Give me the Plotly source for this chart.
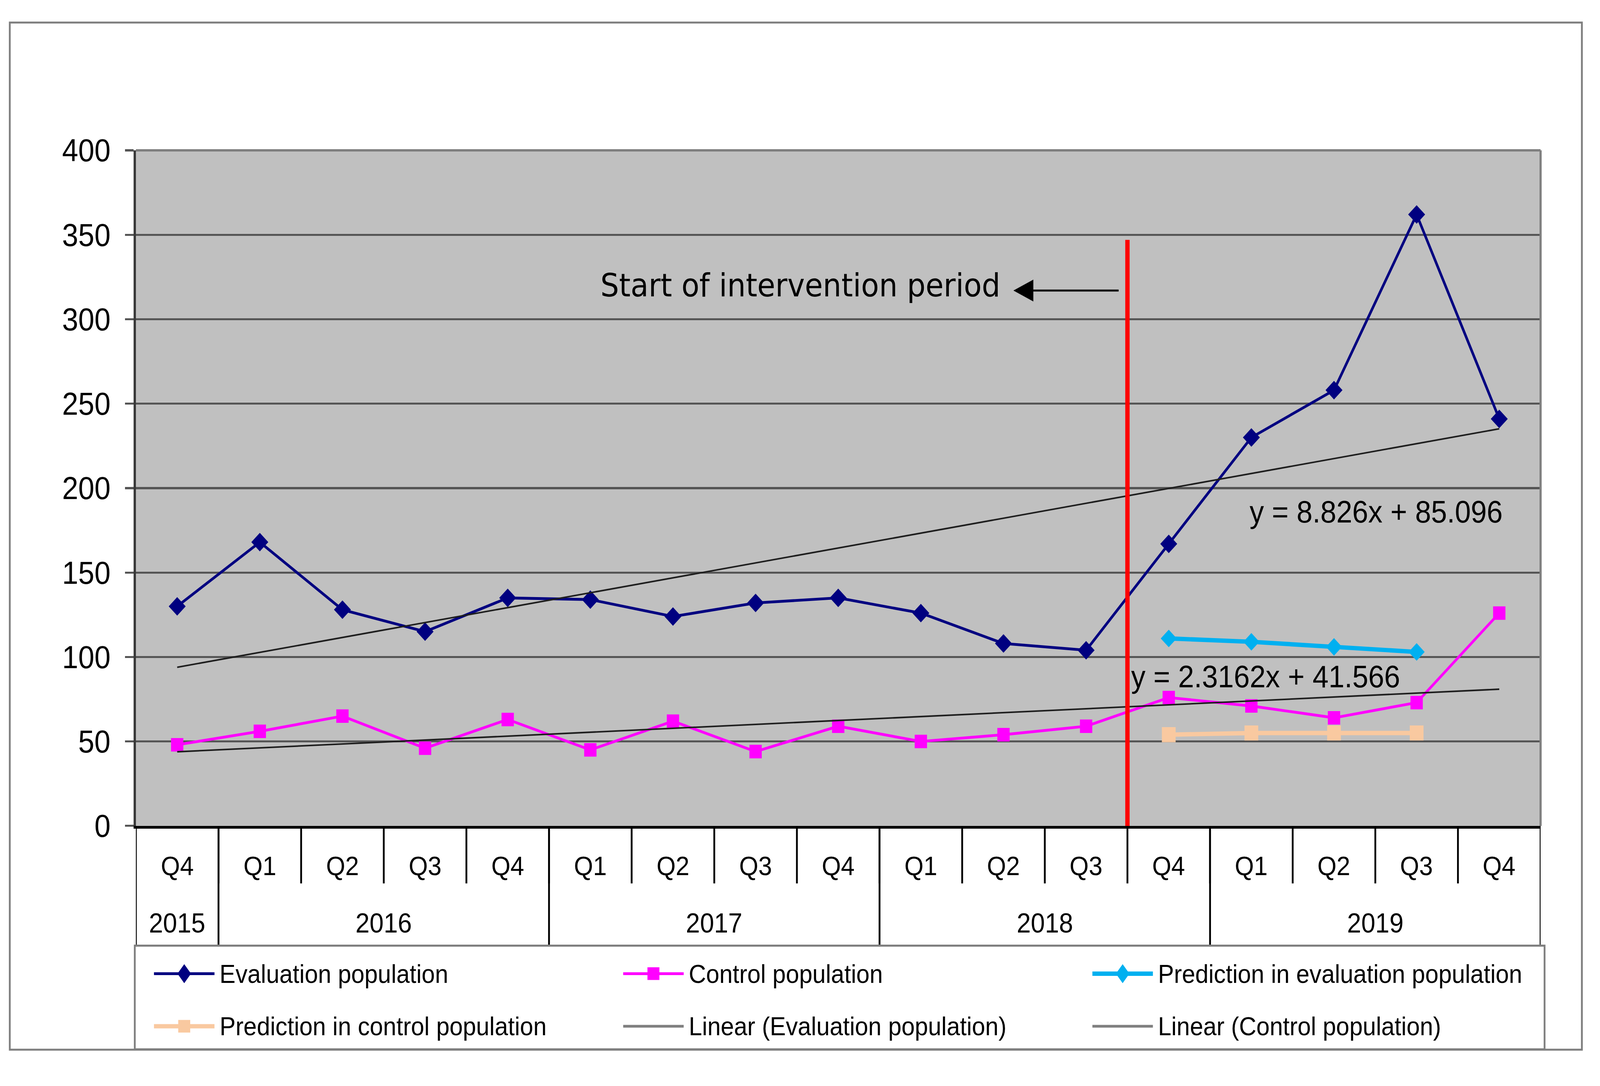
import plotly.graph_objects as go

W, H = 4416, 2781

# ---------------- data ----------------
quarters = ["Q4", "Q1", "Q2", "Q3", "Q4", "Q1", "Q2", "Q3", "Q4",
            "Q1", "Q2", "Q3", "Q4", "Q1", "Q2", "Q3", "Q4"]
years = ["2015", "2016", "2017", "2018", "2019"]
year_first_idx = [0, 1, 5, 9, 13]
year_last_idx = [0, 4, 8, 12, 16]

evaluation = [130, 168, 128, 115, 135, 134, 124, 132, 135, 126, 108, 104, 167, 230, 258, 362, 241]
control = [48, 56, 65, 46, 63, 45, 62, 44, 59, 50, 54, 59, 76, 71, 64, 73, 126]
pred_start_idx = 12
pred_evaluation = [111, 109, 106, 103]
pred_control = [54, 55, 55, 55]

eval_slope, eval_intercept = 8.826, 85.096
ctrl_slope, ctrl_intercept = 2.3162, 41.566
eval_eq_text = "y = 8.826x + 85.096"
ctrl_eq_text = "y = 2.3162x + 41.566"
intervention_idx = 11.5
intervention_text = "Start of intervention period"

legend_names = ["Evaluation population", "Control population",
                "Prediction in evaluation population",
                "Prediction in control population",
                "Linear (Evaluation population)", "Linear (Control population)"]

NAVY = "#000080"
MAGENTA = "#FF00FF"
LIGHTBLUE = "#00B0F0"
PEACH = "#F9C9A0"
TREND = "#1e1e1e"
GRAY = "#7f7f7f"

# ------------- helpers (pixel -> paper) -------------
def PX(x):
    return x / W

def PY(y):
    return 1 - y / H

PLOT_L, PLOT_R, PLOT_T, PLOT_B = 375, 4252, 390, 2150

n = len(quarters)
xs = list(range(n))
pred_x = list(range(pred_start_idx, pred_start_idx + len(pred_evaluation)))
eval_trend = [eval_slope * (i + 1) + eval_intercept for i in xs]
ctrl_trend = [ctrl_slope * (i + 1) + ctrl_intercept for i in xs]

fig = go.Figure()
fig.add_trace(go.Scatter(x=xs, y=evaluation, mode="lines+markers",
                         line=dict(color=NAVY, width=7),
                         marker=dict(symbol="diamond", size=36, color=NAVY),
                         name=legend_names[0], showlegend=False))
fig.add_trace(go.Scatter(x=xs, y=control, mode="lines+markers",
                         line=dict(color=MAGENTA, width=7),
                         marker=dict(symbol="square", size=34, color=MAGENTA),
                         name=legend_names[1], showlegend=False))
fig.add_trace(go.Scatter(x=pred_x, y=pred_evaluation, mode="lines+markers",
                         line=dict(color=LIGHTBLUE, width=11),
                         marker=dict(symbol="diamond", size=34, color=LIGHTBLUE),
                         name=legend_names[2], showlegend=False))
fig.add_trace(go.Scatter(x=pred_x, y=pred_control, mode="lines+markers",
                         line=dict(color=PEACH, width=11),
                         marker=dict(symbol="square", size=38, color=PEACH),
                         name=legend_names[3], showlegend=False))
fig.add_trace(go.Scatter(x=xs, y=eval_trend, mode="lines",
                         line=dict(color=TREND, width=4),
                         name=legend_names[4], showlegend=False))
fig.add_trace(go.Scatter(x=xs, y=ctrl_trend, mode="lines",
                         line=dict(color=TREND, width=4),
                         name=legend_names[5], showlegend=False))

shapes = []
annotations = []

# outer border
shapes.append(dict(type="rect", xref="paper", yref="paper",
                   x0=PX(27), x1=PX(4366), y0=PY(57), y1=PY(2733),
                   line=dict(color=GRAY, width=5), layer="below"))
# plot top and right borders
shapes.append(dict(type="line", xref="paper", yref="paper",
                   x0=PX(PLOT_L), x1=PX(PLOT_R), y0=PY(PLOT_T), y1=PY(PLOT_T),
                   line=dict(color=GRAY, width=6)))
shapes.append(dict(type="line", xref="paper", yref="paper",
                   x0=PX(PLOT_R), x1=PX(PLOT_R), y0=PY(PLOT_T), y1=PY(PLOT_B),
                   line=dict(color=GRAY, width=6)))

# category table: quarter dividers
Q_BOTTOM, YEAR_BOTTOM = 2300, 2462
for k in range(n - 1):
    shapes.append(dict(type="line", xref="x", yref="paper",
                       x0=k + 0.5, x1=k + 0.5, y0=PY(PLOT_B), y1=PY(Q_BOTTOM),
                       line=dict(color="black", width=5)))
# year boundaries
bounds = [f - 0.5 for f in year_first_idx] + [year_last_idx[-1] + 0.5]
for b in bounds:
    shapes.append(dict(type="line", xref="x", yref="paper",
                       x0=b, x1=b, y0=PY(PLOT_B), y1=PY(YEAR_BOTTOM),
                       line=dict(color="black", width=5)))
# legend box
LEG_L, LEG_R, LEG_B = 372, 4263, 2732
shapes.append(dict(type="rect", xref="paper", yref="paper",
                   x0=PX(LEG_L), x1=PX(LEG_R), y0=PY(YEAR_BOTTOM), y1=PY(LEG_B),
                   line=dict(color=GRAY, width=5)))

# quarter and year labels
for i, q in enumerate(quarters):
    annotations.append(dict(x=i, y=PY(2253), xref="x", yref="paper", text=q,
                            showarrow=False, xanchor="center", yanchor="middle",
                            font=dict(family="Liberation Sans", size=68, color="black")))
for yr, f, l in zip(years, year_first_idx, year_last_idx):
    annotations.append(dict(x=(f + l) / 2, y=PY(2403), xref="x", yref="paper", text=yr,
                            showarrow=False, xanchor="center", yanchor="middle",
                            font=dict(family="Liberation Sans", size=70, color="black")))

# intervention line, arrow and label
shapes.append(dict(type="line", xref="x", yref="y", x0=intervention_idx, x1=intervention_idx,
                   y0=-4, y1=347, line=dict(color="#FF0000", width=12)))
annotations.append(dict(x=10.12, y=317, ax=11.40, ay=317, xref="x", yref="y",
                        axref="x", ayref="y", text="", showarrow=True,
                        arrowhead=2, arrowsize=2.2, arrowwidth=5, arrowcolor="black"))
annotations.append(dict(x=7.54, y=320, xref="x", yref="y", text=intervention_text,
                        showarrow=False, xanchor="center", yanchor="middle",
                        font=dict(family="DejaVu Sans", size=81, color="black")))
# trend equations
annotations.append(dict(x=14.51, y=186, xref="x", yref="y", text=eval_eq_text,
                        showarrow=False, xanchor="center", yanchor="middle",
                        font=dict(family="Liberation Sans", size=79, color="black")))
annotations.append(dict(x=13.17, y=88.4, xref="x", yref="y", text=ctrl_eq_text,
                        showarrow=False, xanchor="center", yanchor="middle",
                        font=dict(family="Liberation Sans", size=79, color="black")))

# manual legend
leg_cols = [425, 1720, 3015]
leg_rows = [2535, 2672]
SYM_LEN = 167
leg_styles = [
    (NAVY, 7, "diamond"), (MAGENTA, 7, "square"), (LIGHTBLUE, 11, "diamond"),
    (PEACH, 11, "square"), (GRAY, 7, None), (GRAY, 7, None),
]
for idx, (name, (col, lw, sym)) in enumerate(zip(legend_names, leg_styles)):
    cx0 = leg_cols[idx % 3]
    cy = leg_rows[idx // 3]
    shapes.append(dict(type="line", xref="paper", yref="paper",
                       x0=PX(cx0), x1=PX(cx0 + SYM_LEN), y0=PY(cy), y1=PY(cy),
                       line=dict(color=col, width=lw)))
    mx = cx0 + SYM_LEN / 2
    if sym == "diamond":
        hw, hh = 18, 24
        path = (f"M{PX(mx - hw)},{PY(cy)} L{PX(mx)},{PY(cy - hh)} "
                f"L{PX(mx + hw)},{PY(cy)} L{PX(mx)},{PY(cy + hh)} Z")
        shapes.append(dict(type="path", xref="paper", yref="paper", path=path,
                           fillcolor=col, line=dict(color=col, width=1)))
    elif sym == "square":
        hs = 16
        shapes.append(dict(type="rect", xref="paper", yref="paper",
                           x0=PX(mx - hs), x1=PX(mx + hs), y0=PY(cy - hs), y1=PY(cy + hs),
                           fillcolor=col, line=dict(color=col, width=1)))
    annotations.append(dict(x=PX(cx0 + SYM_LEN + 12), y=PY(cy), xref="paper", yref="paper",
                            text=name, showarrow=False, xanchor="left", yanchor="middle",
                            font=dict(family="Liberation Sans", size=66, color="black")))

fig.update_layout(
    width=W, height=H,
    margin=dict(l=0, r=0, t=0, b=0),
    paper_bgcolor="white",
    plot_bgcolor="#C0C0C0",
    shapes=shapes,
    annotations=annotations,
    showlegend=False,
    xaxis=dict(domain=[PX(PLOT_L), PX(PLOT_R)], range=[-0.5, n - 0.5],
               showticklabels=False, showgrid=False, zeroline=False,
               showline=True, linecolor="black", linewidth=7, ticks=""),
    yaxis=dict(domain=[PY(PLOT_B), PY(PLOT_T)], range=[0, 400], dtick=50,
               tick0=0, showgrid=True, gridcolor="#555555", gridwidth=5,
               zeroline=False, showline=True, linecolor="#3a3a3a", linewidth=6,
               ticks="outside", ticklen=24, tickwidth=5, tickcolor="#555555",
               ticklabelstandoff=24,
               tickfont=dict(family="Liberation Sans", size=80, color="black")),
)

post_js = (
    "var gd=document.getElementById('{plot_id}');"
    "document.documentElement.style.margin='0';document.body.style.margin='0';"
    "document.documentElement.style.overflow='hidden';document.body.style.overflow='hidden';"
    "var iw=window.innerWidth, ih=window.innerHeight, b=0.0154;"
    "var sx=iw/%d, sy=ih*(1+b)/%d;"
    "gd.style.position='fixed';gd.style.left='0px';gd.style.top=(-b*ih)+'px';"
    "gd.style.transformOrigin='0 0';gd.style.transform='scale('+sx+','+sy+')';" % (W, H)
)
fig.write_html("out.html", post_script=post_js, config={"displayModeBar": False})
